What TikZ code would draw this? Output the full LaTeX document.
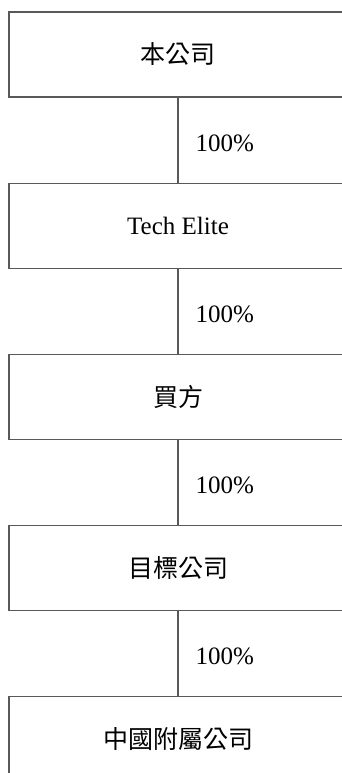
\documentclass[tikz,border=0pt]{standalone}
\usepackage{fontspec}
\setmainfont{Liberation Serif}
\newfontfamily\cjk{Noto Sans CJK TC}
\usetikzlibrary{positioning}

\begin{document}
\begin{tikzpicture}[x=1pt,y=1pt,node distance=85pt,
		every node/.style={font=\fontsize{25}{30}\selectfont},
		entity/.style={draw=black!65,line width=1.2pt,minimum width=338pt,minimum height=85pt,inner sep=0pt},
		link/.style={draw=black!65,line width=1.2pt},
		share/.style={anchor=west,inner sep=0pt,xshift=17pt,yshift=-3pt}]
		\useasboundingbox (0,0) rectangle (342,-773);
		
		\node[entity] (co) at (178,-54.5) {\cjk 本公司};
		\node[entity,below=of co] (tech) {Tech Elite};
		\node[entity,below=of tech] (buyer) {\cjk 買方};
		\node[entity,below=of buyer] (target) {\cjk 目標公司};
		\node[entity,below=of target] (prc) {\cjk 中國附屬公司};
		
		\draw[link] (co) -- (tech) node[midway,share] {100\%};
		\draw[link] (tech) -- (buyer) node[midway,share] {100\%};
		\draw[link] (buyer) -- (target) node[midway,share] {100\%};
		\draw[link] (target) -- (prc) node[midway,share] {100\%};
	\end{tikzpicture}
\end{document}
